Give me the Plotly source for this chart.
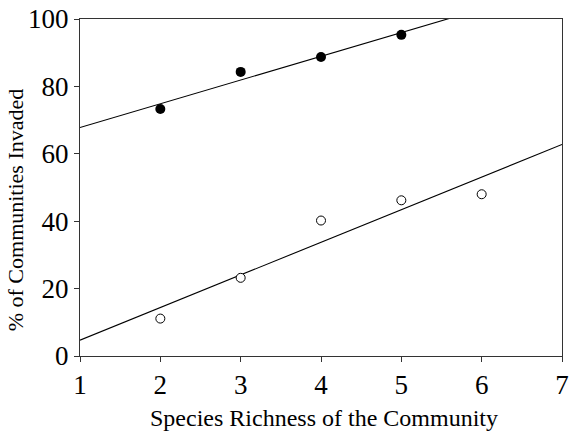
import numpy as np
import plotly.graph_objects as go

# Filled circles
richness_filled = [2, 3, 4, 5]
invaded_filled = [73.3, 84.3, 88.7, 95.3]
# Open circles
richness_open = [2, 3, 4, 5, 6]
invaded_open = [11.1, 23.2, 40.2, 46.2, 48.0]

x_ticks = [1, 2, 3, 4, 5, 6, 7]
y_ticks = [0, 20, 40, 60, 80, 100]

x_title = "Species Richness of the Community"
y_title = "% of Communities Invaded"

fit_x = [1, 7]

def fit_line(xs, ys):
    m, b = np.polyfit(xs, ys, 1)
    return [m * v + b for v in fit_x]

fig = go.Figure()
fig.add_trace(go.Scatter(x=fit_x, y=fit_line(richness_filled, invaded_filled), mode="lines",
                         line=dict(color="black", width=1.1), showlegend=False, hoverinfo="skip"))
fig.add_trace(go.Scatter(x=fit_x, y=fit_line(richness_open, invaded_open), mode="lines",
                         line=dict(color="black", width=1.1), showlegend=False, hoverinfo="skip"))
fig.add_trace(go.Scatter(x=richness_filled, y=invaded_filled, mode="markers",
                         marker=dict(symbol="circle", size=10, color="black"),
                         showlegend=False, cliponaxis=False))
fig.add_trace(go.Scatter(x=richness_open, y=invaded_open, mode="markers",
                         marker=dict(symbol="circle", size=9, color="white",
                                     line=dict(color="black", width=1)),
                         showlegend=False, cliponaxis=False))

font_family = "Liberation Serif"
axis_common = dict(showgrid=False, zeroline=False, showline=True, linecolor="#333",
                   linewidth=1, mirror=True, ticks="outside", ticklen=5,
                   tickcolor="#333", tickwidth=1, automargin=False,
                   tickfont=dict(family=font_family, size=27, color="black"))

fig.update_xaxes(range=[1, 7], tickvals=x_ticks, ticktext=[str(v) for v in x_ticks],
                 **axis_common)
fig.update_yaxes(range=[0, 100], tickvals=y_ticks, ticktext=[str(v) for v in y_ticks],
                 **axis_common)

fig.add_annotation(text=x_title, xref="paper", yref="paper", x=0.507, y=-0.184,
                   xanchor="center", yanchor="middle", showarrow=False,
                   font=dict(family=font_family, size=24, color="black"))
fig.add_annotation(text=y_title, xref="paper", yref="paper", x=-0.133, y=0.435,
                   xanchor="center", yanchor="middle", showarrow=False, textangle=-90,
                   font=dict(family=font_family, size=22, color="black"))

fig.update_layout(width=570, height=434, margin=dict(l=80, r=8, t=19, b=78),
                  paper_bgcolor="white", plot_bgcolor="white",
                  font=dict(family=font_family, color="black"))

fig.write_html("out.html", config={"displayModeBar": False},
               post_script="document.body.style.margin='0';document.body.style.overflow='hidden';")
